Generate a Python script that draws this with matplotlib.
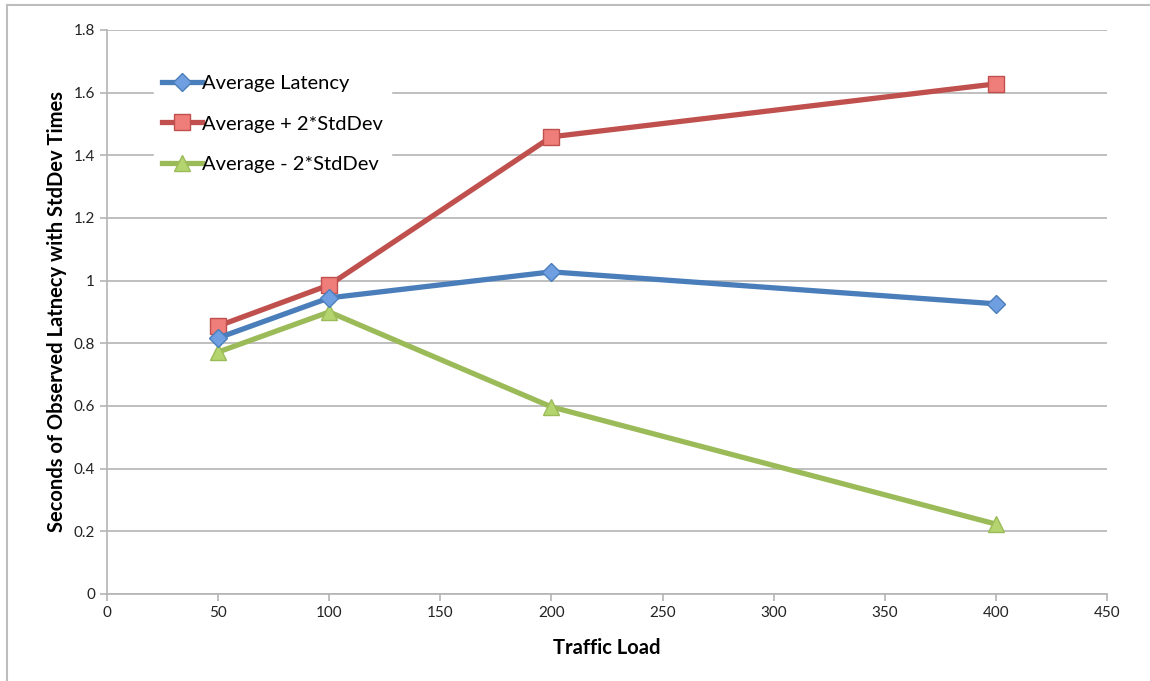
import matplotlib
matplotlib.use("Agg")
import matplotlib.pyplot as plt
from matplotlib.lines import Line2D

plt.rcParams["font.family"] = ["Lato", "DejaVu Sans"]

# Traffic load levels and latency values (seconds)
loads = [50, 100, 200, 400]
avg_latency = [0.817, 0.945, 1.028, 0.926]
avg_plus_2sd = [0.855, 0.986, 1.459, 1.628]
avg_minus_2sd = [0.772, 0.900, 0.597, 0.223]

labels = ["Average Latency", "Average + 2*StdDev", "Average - 2*StdDev"]

fig = plt.figure(figsize=(11.5, 6.81), dpi=100)
ax = fig.add_axes([0.093, 0.1278, 0.8696, 0.8282])

# outer frame (top and left visible in the screenshot)
fig.add_artist(Line2D([0.0061, 0.0061], [0, 0.9927], color="#bdbdbd", lw=1.5))
fig.add_artist(Line2D([0.0061, 1], [0.9927, 0.9927], color="#bdbdbd", lw=1.5))

ax.plot(loads, avg_latency, color="#4a7ebb", lw=3.8, marker="D", ms=9,
        mfc="#6f9fe0", mec="#4a7ebb", label=labels[0], zorder=4)
ax.plot(loads, avg_plus_2sd, color="#c0504d", lw=3.8, marker="s", ms=12,
        mfc="#ef7d79", mec="#c0504d", label=labels[1], zorder=3)
ax.plot(loads, avg_minus_2sd, color="#9bbb59", lw=3.8, marker="^", ms=12,
        mfc="#b3d46e", mec="#9bbb59", label=labels[2], zorder=3)

ax.set_xlim(0, 450)
ax.set_ylim(0, 1.8)
ax.set_xticks(range(0, 451, 50))
ax.set_yticks([0, 0.2, 0.4, 0.6, 0.8, 1, 1.2, 1.4, 1.6, 1.8])
ax.set_yticklabels(["0", "0.2", "0.4", "0.6", "0.8", "1", "1.2", "1.4", "1.6", "1.8"])
ax.yaxis.grid(True, color="#b4b4b4", lw=1.2)
ax.set_axisbelow(True)

for s in ["top", "right"]:
    ax.spines[s].set_visible(False)
for s in ["left", "bottom"]:
    ax.spines[s].set_color("#b4b4b4")
    ax.spines[s].set_linewidth(1.2)
ax.tick_params(colors="#b4b4b4", labelcolor="#222222", labelsize=11, length=5, width=1.2)

ax.set_xlabel("Traffic Load", fontsize=14.5, fontweight="bold", labelpad=13)
ax.set_ylabel("Seconds of Observed Latnecy with StdDev Times", fontsize=14.5,
              fontweight="bold", labelpad=5)

leg = ax.legend(loc="upper left", bbox_to_anchor=(0.037, 0.952), frameon=True,
                fontsize=14.5, handlelength=2.0, handletextpad=0.0,
                labelspacing=1.15, borderpad=0.4, fancybox=False)
leg.get_frame().set_edgecolor("white")
leg.get_frame().set_facecolor("white")
leg.get_frame().set_alpha(1)

fig.savefig("out.png", dpi=100)
